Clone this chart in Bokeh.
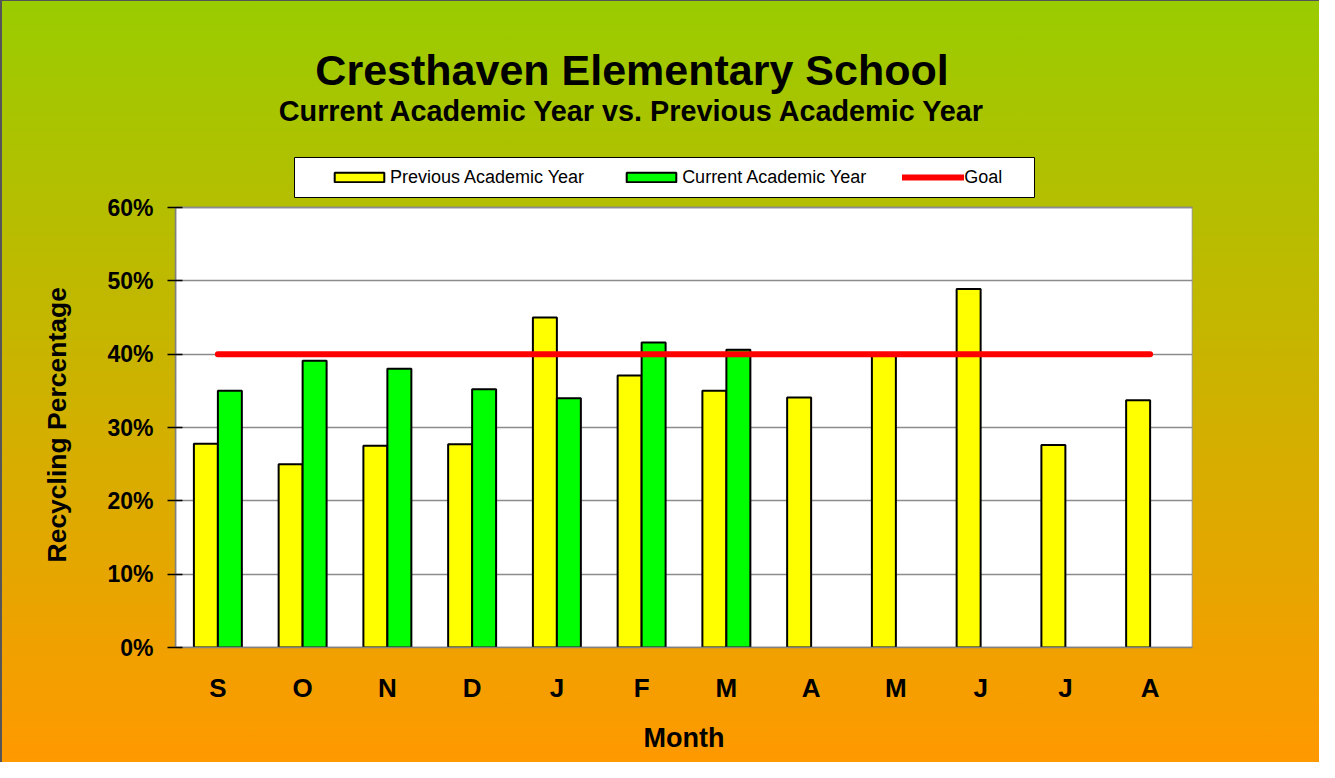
from bokeh.plotting import figure
from bokeh.models import (ColumnDataSource, Legend, LegendItem, Label, BoxAnnotation, Title,
                          FixedTicker, NumeralTickFormatter, Range1d)
from bokeh.transform import dodge
from bokeh.embed import file_html
from bokeh.resources import INLINE

# ---------------- data ----------------
months = ["S", "O", "N", "D", "J", "F", "M", "A", "M", "J", "J", "A"]
previous_year = [0.278, 0.250, 0.275, 0.277, 0.450, 0.371, 0.350, 0.341, 0.400, 0.489, 0.276, 0.337]
current_year = [0.350, 0.391, 0.380, 0.352, 0.340, 0.416, 0.406, None, None, None, None, None]
goal = [0.40, 0.40, 0.40, 0.40, 0.40, 0.40, 0.40, 0.40, 0.40, 0.40, 0.40, 0.40]
y_ticks = [0.0, 0.1, 0.2, 0.3, 0.4, 0.5, 0.6]
y_max = 0.6

FONT = "Liberation Sans"

idx = list(range(len(months)))
src_prev = ColumnDataSource(dict(x=idx, top=previous_year))
cur_x = [i for i, v in zip(idx, current_year) if v is not None]
cur_v = [v for v in current_year if v is not None]
src_cur = ColumnDataSource(dict(x=cur_x, top=cur_v))
src_goal = ColumnDataSource(dict(x=idx, y=goal))

# ---------------- layout (pixels) ----------------
W, H = 1319, 762
LEFT, RIGHT = 175, 1192          # plot-area edges
PLOT_TOP, BOTTOM = 207, 647
FRAME_H = BOTTOM                  # frame runs from canvas top to plot bottom
y_end = y_max * FRAME_H / (BOTTOM - PLOT_TOP)

p = figure(width=W, height=H, output_backend="svg", toolbar_location=None,
           title=None, x_range=Range1d(-0.5, len(months) - 0.5), y_range=Range1d(0, y_end),
           min_border_left=LEFT, min_border_top=0, min_border_right=W - RIGHT,
           min_border_bottom=H - BOTTOM)

p.border_fill_alpha = 0
p.background_fill_alpha = 0
p.outline_line_color = None
p.styles = {"background": "linear-gradient(to bottom, #99CC00 0%, #FF9900 100%)",
            "box-shadow": "inset 2px 1px 0 #555555"}

# white plot area
area = p.quad(left=-0.5, right=len(months) - 0.5, bottom=0, top=y_max,
              fill_color="white", line_color="#808080", line_width=1.5)
area.level = "image"

bw = 0.283
r_prev = p.vbar(x=dodge("x", -0.1415, range=p.x_range), top="top", width=bw, source=src_prev,
                fill_color="#FFFF00", line_color="black", line_width=2)
r_cur = p.vbar(x=dodge("x", 0.1415, range=p.x_range), top="top", width=bw, source=src_cur,
               fill_color="#00FF00", line_color="black", line_width=2)
r_goal = p.line(x="x", y="y", source=src_goal, line_color="#FF0000", line_width=6,
                line_cap="round")

# axes
p.xgrid.grid_line_color = None
p.ygrid.ticker = FixedTicker(ticks=y_ticks)
p.ygrid.grid_line_color = "#8c8c8c"
p.ygrid.grid_line_width = 1.5

p.yaxis.ticker = FixedTicker(ticks=y_ticks)
p.yaxis.bounds = (0, y_max)
p.yaxis.formatter = NumeralTickFormatter(format="0%")
p.yaxis.major_label_text_font = FONT
p.yaxis.major_label_text_font_style = "bold"
p.yaxis.major_label_text_font_size = "23px"
p.yaxis.major_label_text_color = "black"
p.yaxis.major_tick_out = 8
p.yaxis.major_tick_in = 7
p.yaxis.major_tick_line_color = "black"
p.yaxis.major_tick_line_width = 1.5
p.yaxis.minor_tick_line_color = None
p.yaxis.axis_line_color = "#808080"
p.yaxis.axis_line_width = 1.5
p.yaxis.major_label_standoff = 14

# y-axis title as a left-side title, starting near the bottom of the plot area
ytitle = Title(text="Recycling Percentage", align="left", offset=85, standoff=66,
               text_font=FONT, text_font_style="bold", text_font_size="26.5px",
               text_color="black")
p.add_layout(ytitle, "left")

p.xaxis.ticker = FixedTicker(ticks=idx)
p.xaxis.major_label_overrides = {i: m for i, m in zip(idx, months)}
p.xaxis.major_label_text_font = FONT
p.xaxis.major_label_text_font_style = "bold"
p.xaxis.major_label_text_font_size = "26px"
p.xaxis.major_label_text_color = "black"
p.xaxis.major_tick_line_color = None
p.xaxis.minor_tick_line_color = None
p.xaxis.major_tick_out = 0
p.xaxis.major_tick_in = 0
p.xaxis.axis_line_color = "#808080"
p.xaxis.axis_line_width = 1.5
p.xaxis.major_label_standoff = 25
p.xaxis.axis_label = "Month"
p.xaxis.axis_label_text_font = FONT
p.xaxis.axis_label_text_font_style = "bold"
p.xaxis.axis_label_text_font_size = "27px"
p.xaxis.axis_label_text_color = "black"
p.xaxis.axis_label_standoff = 17

# legend box + legend (screen units measured from frame left / frame bottom)
box = BoxAnnotation(left=119, right=859, bottom=450, top=490,
                    left_units="screen", right_units="screen",
                    bottom_units="screen", top_units="screen",
                    fill_color="white", fill_alpha=1, line_color="black", line_width=1,
                    line_alpha=1)
p.add_layout(box)

legend = Legend(items=[LegendItem(label="Previous Academic Year", renderers=[r_prev]),
                       LegendItem(label="Current Academic Year", renderers=[r_cur]),
                       LegendItem(label="Goal", renderers=[r_goal])],
                orientation="horizontal", location=(153, 459),
                glyph_width=62, glyph_height=12, label_standoff=0, spacing=36,
                padding=0, margin=0,
                label_text_font=FONT, label_text_font_size="18px", label_height=22,
                label_text_color="black",
                border_line_color=None, background_fill_alpha=0)
p.add_layout(legend, "center")

# titles
p.add_layout(Label(x=456.5, y=578, x_units="screen", y_units="screen",
                   text="Cresthaven Elementary School", text_align="center",
                   text_baseline="alphabetic", text_font=FONT, text_font_style="bold",
                   text_font_size="43px", text_color="black"))
p.add_layout(Label(x=457, y=537, x_units="screen", y_units="screen",
                   text="Current Academic Year vs. Previous Academic Year", text_align="center",
                   text_baseline="alphabetic", text_font=FONT, text_font_style="bold",
                   text_font_size="28.8px", text_color="black"))

open("out.html", "w").write(file_html(p, INLINE))
